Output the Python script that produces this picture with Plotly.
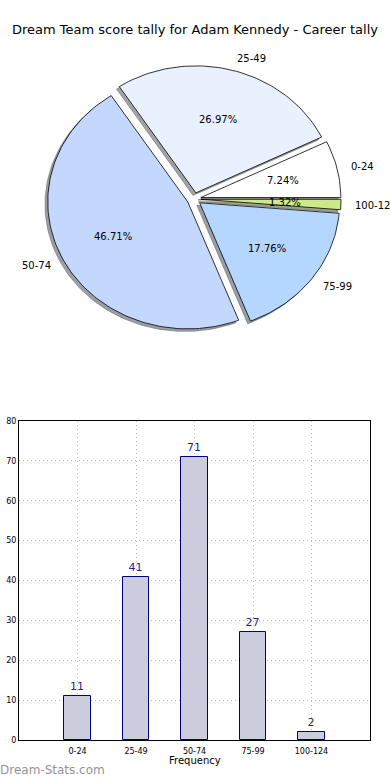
import math
import plotly.graph_objects as go

# ---- data ----
categories = ["0-24", "25-49", "50-74", "75-99", "100-124"]
counts = [11, 41, 71, 27, 2]
slice_colors = ["#ffffff", "#eaf1fe", "#c4d8ff", "#b4d6ff", "#cdea88"]
y_ticks = [0, 10, 20, 30, 40, 50, 60, 70, 80]
title_text = "Dream Team score tally for Adam Kennedy - Career tally"
x_title = "Frequency"
watermark = "Dream-Stats.com"

W, H = 390, 780
FONT = "DejaVu Sans"

fig = go.Figure()

# ---- pie drawn as filled wedges (matplotlib-like, exploded, with shadow) ----
total = sum(counts)
explode = 0.05
shadow_off = -0.02

def hex_rgb(h):
    h = h.lstrip("#")
    return tuple(int(h[i:i + 2], 16) for i in (0, 2, 4))

wedges = []
theta = 0.0
for cat, v, col in zip(categories, counts, slice_colors):
    t1 = theta
    t2 = theta + 360.0 * v / total
    theta = t2
    m = math.radians((t1 + t2) / 2)
    ox, oy = explode * math.cos(m), explode * math.sin(m)
    n = max(4, int((t2 - t1) / 1.5))
    xs = [ox]
    ys = [oy]
    for k in range(n + 1):
        a = math.radians(t1 + (t2 - t1) * k / n)
        xs.append(ox + math.cos(a))
        ys.append(oy + math.sin(a))
    xs.append(ox)
    ys.append(oy)
    wedges.append((cat, v, col, xs, ys, m, ox, oy))

# shadows first
for cat, v, col, xs, ys, m, ox, oy in wedges:
    r, g, b = hex_rgb(col)
    sc = f"rgba({int(r*0.3)},{int(g*0.3)},{int(b*0.3)},0.5)"
    fig.add_trace(go.Scatter(
        x=[x + shadow_off for x in xs], y=[y + shadow_off for y in ys],
        mode="lines", fill="toself", fillcolor=sc,
        line=dict(color=sc, width=0.8),
        hoverinfo="skip", showlegend=False, xaxis="x", yaxis="y"))

for cat, v, col, xs, ys, m, ox, oy in wedges:
    fig.add_trace(go.Scatter(
        x=xs, y=ys, mode="lines", fill="toself", fillcolor=col,
        line=dict(color="black", width=0.8),
        hoverinfo="skip", showlegend=False, xaxis="x", yaxis="y"))

annotations = []
for cat, v, col, xs, ys, m, ox, oy in wedges:
    lx = ox + 1.1 * math.cos(m)
    ly = oy + 1.1 * math.sin(m)
    annotations.append(dict(
        x=lx, y=ly, xref="x", yref="y", text=cat, showarrow=False,
        xanchor="left" if lx > 0 else "right", yanchor="middle",
        xshift=-2 if lx > 0 else 2,
        font=dict(family=FONT, size=10, color="black")))
    px = ox + 0.6 * math.cos(m)
    py = oy + 0.6 * math.sin(m)
    annotations.append(dict(
        x=px, y=py, xref="x", yref="y", text="%1.2f%%" % (100.0 * v / total),
        showarrow=False, xanchor="center", yanchor="middle",
        font=dict(family=FONT, size=10, color="black")))

# ---- bar chart ----
fig.add_trace(go.Bar(
    x=list(range(len(categories))), y=counts, width=0.45,
    marker=dict(color="#ccccdf", line=dict(color="#000080", width=1)),
    text=[str(c) for c in counts], textposition="outside",
    outsidetextfont=dict(family=FONT, size=11, color="#1f1f99"),
    cliponaxis=False, hoverinfo="skip", showlegend=False,
    xaxis="x2", yaxis="y2"))

annotations.append(dict(
    x=0.5, y=1 - 30 / H, xref="paper", yref="paper", text=title_text,
    showarrow=False, xanchor="center", yanchor="middle",
    font=dict(family=FONT, size=13, color="black")))
annotations.append(dict(
    x=(19 + 370) / 2 / W, y=1 - 760 / H, xref="paper", yref="paper", text=x_title,
    showarrow=False, xanchor="center", yanchor="middle",
    font=dict(family=FONT, size=10, color="black")))
annotations.append(dict(
    x=0.0, y=1 - 770 / H, xref="paper", yref="paper", text=watermark,
    showarrow=False, xanchor="left", yanchor="middle", xshift=-2,
    font=dict(family=FONT, size=12, color="#939393")))

# pie axes: center at (194,199) px, x unit = 140 px, y unit = 127 px, occupying top 390 px
cx, cy, rx, ry = 194, 199, 140.0, 127.0
pie_top_px, pie_bot_px = 0, 390

grid_style = dict(showgrid=True, gridcolor="#b8b8b8", griddash="1px,3px", gridwidth=1)

fig.update_layout(
    width=W, height=H, margin=dict(l=0, r=0, t=0, b=0, autoexpand=False),
    paper_bgcolor="white", plot_bgcolor="white",
    showlegend=False,
    annotations=annotations,
    xaxis=dict(domain=[0, 1], range=[-cx / rx, (W - cx) / rx], visible=False,
               fixedrange=True, automargin=False),
    yaxis=dict(domain=[1 - pie_bot_px / H, 1 - pie_top_px / H],
               range=[(cy - pie_bot_px) / ry, (cy - pie_top_px) / ry],
               visible=False, fixedrange=True, automargin=False),
    xaxis2=dict(domain=[19 / W, 370 / W], range=[-1, len(categories)],
                anchor="y2", tickmode="array",
                tickvals=list(range(len(categories))), ticktext=categories,
                tickfont=dict(family=FONT, size=8, color="black"),
                ticklabelstandoff=3,
                showline=True, linecolor="black", linewidth=1, mirror=True,
                zeroline=False, ticks="", automargin=False,
                fixedrange=True, **grid_style),
    yaxis2=dict(domain=[1 - 740 / H, 1 - 421 / H], range=[0, 80],
                anchor="x2", tickmode="array", tickvals=y_ticks,
                tickfont=dict(family=FONT, size=8, color="black"),
                showline=True, linecolor="black", linewidth=1, mirror=True,
                zeroline=False, ticks="", fixedrange=True, automargin=False,
                **grid_style),
    bargap=0,
)

fig.write_html("out.html", config={"displayModeBar": False},
               post_script="document.body.style.margin='0';document.body.style.overflow='hidden';")
